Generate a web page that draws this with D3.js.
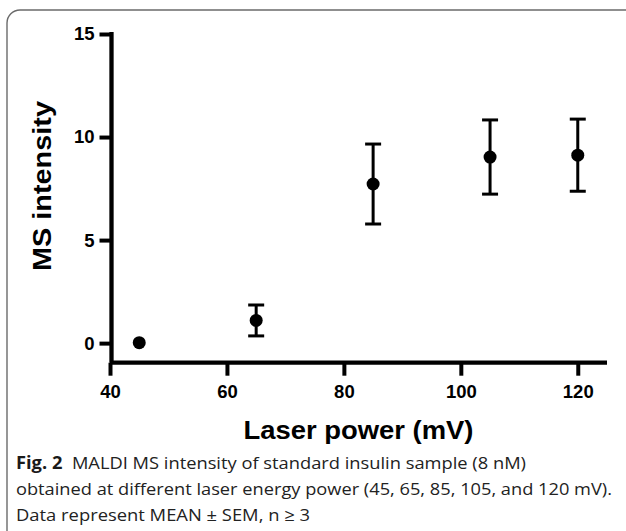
<!DOCTYPE html>
<html>
<head>
<meta charset="utf-8">
<script src="https://cdn.jsdelivr.net/npm/d3@7/dist/d3.min.js"></script>
<style>
  html, body { margin: 0; padding: 0; background: #fff; }
  svg { display: block; }
</style>
</head>
<body>
<svg id="chart" width="626" height="531"></svg>
<script>
// ---- data ----
const laserPower = [45, 65, 85, 105, 120];
const msMean = [0.02, 1.1, 7.72, 9.03, 9.12];
const msSem = [0, 0.75, 1.94, 1.8, 1.75];
const xTicks = [40, 60, 80, 100, 120];
const yTicks = [0, 5, 10, 15];
const xTitle = "Laser power (mV)";
const yTitle = "MS intensity";
const captionLines = [
  ["Fig. 2", "  MALDI MS intensity of standard insulin sample (8 nM)"],
  ["", "obtained at different laser energy power (45, 65, 85, 105, and 120 mV)."],
  ["", "Data represent MEAN \u00B1 SEM, n \u2265 3"]
];

const svg = d3.select("#chart");

// frame
svg.append("rect")
  .attr("x", 7).attr("y", 10)
  .attr("width", 660).attr("height", 540)
  .attr("rx", 13).attr("ry", 13)
  .attr("fill", "none")
  .attr("stroke", "#6b6b6b")
  .attr("stroke-width", 1.4);

const x = d3.scaleLinear().domain([40, 125]).range([110, 607]);
const y = d3.scaleLinear().domain([-0.95, 15]).range([362.7, 34.0]);

const axisFont = "'Liberation Sans', Arial, Helvetica, sans-serif";

// y axis
const gy = svg.append("g").attr("transform", `translate(${x(40) + 1.5},0)`)
  .call(d3.axisLeft(y).tickValues(yTicks).tickSize(12).tickPadding(5).tickSizeOuter(0));
gy.select(".domain").attr("stroke", "#000").attr("stroke-width", 4.3)
  .attr("d", `M0,${y(15) - 2}V${y(-0.95)}`);
gy.selectAll(".tick line").attr("stroke", "#000").attr("stroke-width", 4);
gy.selectAll(".tick text")
  .attr("font-family", axisFont).attr("font-weight", "bold")
  .attr("font-size", 18.5).attr("fill", "#000");

// x axis
const gx = svg.append("g").attr("transform", `translate(0,${y(-0.95)})`)
  .call(d3.axisBottom(x).tickValues(xTicks).tickSize(13).tickPadding(9).tickSizeOuter(0));
gx.select(".domain").attr("stroke", "#000").attr("stroke-width", 4.3)
  .attr("d", `M${x(40)},0H${x(125)}`);
gx.selectAll(".tick line").attr("stroke", "#000").attr("stroke-width", 4);
gx.selectAll(".tick text")
  .attr("font-family", axisFont).attr("font-weight", "bold")
  .attr("font-size", 18.5).attr("fill", "#000");

// titles
svg.append("text")
  .attr("x", (x(40) + x(125)) / 2).attr("y", 439)
  .attr("text-anchor", "middle")
  .attr("font-family", axisFont).attr("font-weight", "bold")
  .attr("font-size", 26).attr("fill", "#000")
  .attr("textLength", 230).attr("lengthAdjust", "spacingAndGlyphs")
  .text(xTitle);

svg.append("text")
  .attr("transform", `translate(51,${186}) rotate(-90)`)
  .attr("text-anchor", "middle")
  .attr("font-family", axisFont).attr("font-weight", "bold")
  .attr("font-size", 26).attr("fill", "#000")
  .attr("textLength", 170).attr("lengthAdjust", "spacingAndGlyphs")
  .text(yTitle);

// error bars
const data = laserPower.map((p, i) => ({ p, m: msMean[i], s: msSem[i] }));
const eb = svg.append("g");
data.filter(d => d.s > 0).forEach(d => {
  const cx = x(d.p);
  eb.append("line").attr("x1", cx).attr("x2", cx)
    .attr("y1", y(d.m + d.s)).attr("y2", y(d.m - d.s))
    .attr("stroke", "#000").attr("stroke-width", 3);
  [d.m + d.s, d.m - d.s].forEach(v => {
    eb.append("line").attr("x1", cx - 8).attr("x2", cx + 8)
      .attr("y1", y(v)).attr("y2", y(v))
      .attr("stroke", "#000").attr("stroke-width", 3);
  });
});

// points
svg.append("g").selectAll("circle").data(data).join("circle")
  .attr("cx", d => x(d.p)).attr("cy", d => y(d.m))
  .attr("r", 6.5).attr("fill", "#000");

// caption
const capFont = "'Open Sans', 'Noto Sans', sans-serif";
const capBase = [469, 495, 521];
const capWidths = [510, 596, 294];
captionLines.forEach((ln, i) => {
  const t = svg.append("text")
    .attr("x", 16).attr("y", capBase[i])
    .attr("font-family", capFont).attr("font-size", 17).attr("fill", "#222")
    .attr("textLength", capWidths[i]).attr("lengthAdjust", "spacingAndGlyphs")
    .attr("xml:space", "preserve");
  if (ln[0]) t.append("tspan").attr("font-weight", "bold").attr("fill", "#1a1a1a").text(ln[0]);
  t.append("tspan").text(ln[1]);
});
</script>
</body>
</html>
